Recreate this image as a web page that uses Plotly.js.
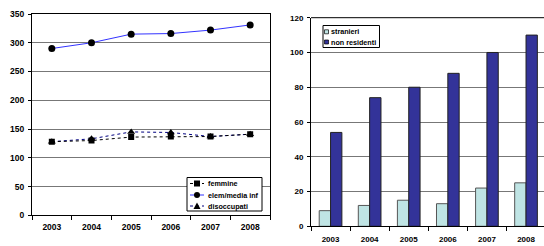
<!DOCTYPE html>
<html><head><meta charset="utf-8">
<script src="https://cdn.plot.ly/plotly-3.0.1.min.js"></script>
<style>html,body{margin:0;padding:0;background:#fff}#chart{width:544px;height:246px}</style>
</head><body><div id="chart"></div>
<script>
var years = ['2003','2004','2005','2006','2007','2008'];
var femmine = [128, 130, 136, 137, 137, 141];
var elemMedia = [290, 300, 315, 316, 322, 331];
var disoccupati = [128, 133, 145, 144, 137, 141];
var stranieri = [9, 12, 15, 13, 22, 25];
var nonResidenti = [54, 74, 80, 88, 100, 110];
var leftNames = ['femmine', 'elem/media inf', 'disoccupati'];
var rightNames = ['stranieri', 'non residenti'];

var W = 544, H = 246;
function px(x){return x / W;}
function py(y){return 1 - y / H;}
var FONT = 'Liberation Sans, Arial, sans-serif';

var traces = [
  {x: years, y: disoccupati, name: leftNames[2], type: 'scatter', mode: 'lines+markers',
   line: {color: '#000080', width: 1, dash: 'dot'}, marker: {symbol: 'triangle-up', size: 7, color: '#000'},
   xaxis: 'x', yaxis: 'y', showlegend: false},
  {x: years, y: femmine, name: leftNames[0], type: 'scatter', mode: 'lines+markers',
   line: {color: '#000', width: 1, dash: 'dot'}, marker: {symbol: 'square', size: 6, color: '#000'},
   xaxis: 'x', yaxis: 'y', showlegend: false},
  {x: years, y: elemMedia, name: leftNames[1], type: 'scatter', mode: 'lines+markers',
   line: {color: '#3333ff', width: 1}, marker: {symbol: 'circle', size: 7, color: '#000'},
   xaxis: 'x', yaxis: 'y', showlegend: false},
  {x: years, y: stranieri, name: rightNames[0], type: 'bar',
   marker: {color: '#bfe4e4', line: {color: '#555', width: 1}}, xaxis: 'x2', yaxis: 'y2', showlegend: false},
  {x: years, y: nonResidenti, name: rightNames[1], type: 'bar',
   marker: {color: '#333399', line: {color: '#222', width: 1}}, xaxis: 'x2', yaxis: 'y2', showlegend: false}
];

var shapes = [];
var annotations = [];

// Legend 1 (left chart)
shapes.push({type: 'rect', xref: 'paper', yref: 'paper', x0: px(187), x1: px(262), y0: py(177.5), y1: py(211),
  line: {color: '#000', width: 1}, fillcolor: '#fff', layer: 'above'});
var leg1 = [
  {name: leftNames[0], color: '#000', dash: 'dot', sym: 'square'},
  {name: leftNames[1], color: '#3333ff', dash: 'solid', sym: 'circle'},
  {name: leftNames[2], color: '#000080', dash: 'dot', sym: 'triangle'}
];
var rows1 = [183.5, 195, 206];
leg1.forEach(function(e, i){
  var yy = rows1[i];
  shapes.push({type: 'line', xref: 'paper', yref: 'paper', x0: px(190), x1: px(204), y0: py(yy), y1: py(yy),
    line: {color: e.color, width: 1, dash: e.dash}, layer: 'above'});
  var cx = 197, r = 3;
  if (e.sym === 'square') {
    shapes.push({type: 'rect', xref: 'paper', yref: 'paper', x0: px(cx - r), x1: px(cx + r), y0: py(yy + r), y1: py(yy - r),
      line: {width: 0}, fillcolor: '#000', layer: 'above'});
  } else if (e.sym === 'circle') {
    shapes.push({type: 'circle', xref: 'paper', yref: 'paper', x0: px(cx - r), x1: px(cx + r), y0: py(yy + r), y1: py(yy - r),
      line: {width: 0}, fillcolor: '#000', layer: 'above'});
  } else {
    var path = 'M' + px(cx - 3.5) + ',' + py(yy + 3) + ' L' + px(cx + 3.5) + ',' + py(yy + 3) + ' L' + px(cx) + ',' + py(yy - 3.5) + ' Z';
    shapes.push({type: 'path', xref: 'paper', yref: 'paper', path: path, line: {width: 0}, fillcolor: '#000', layer: 'above'});
  }
  annotations.push({xref: 'paper', yref: 'paper', x: px(206), y: py(yy), xanchor: 'left', yanchor: 'middle',
    text: e.name, showarrow: false, font: {family: FONT, size: 7.2, color: '#000', weight: 'bold'}});
});

// Legend 2 (right chart)
shapes.push({type: 'rect', xref: 'paper', yref: 'paper', x0: px(323), x1: px(379.5), y0: py(25.5), y1: py(47.5),
  line: {color: '#000', width: 1}, fillcolor: '#fff', layer: 'above'});
var leg2 = [{name: rightNames[0], color: '#bfe4e4'}, {name: rightNames[1], color: '#333399'}];
var rows2 = [31.8, 42];
leg2.forEach(function(e, i){
  var yy = rows2[i];
  shapes.push({type: 'rect', xref: 'paper', yref: 'paper', x0: px(324.5), x1: px(328.5), y0: py(yy + 2), y1: py(yy - 2),
    line: {color: '#000', width: 0.7}, fillcolor: e.color, layer: 'above'});
  annotations.push({xref: 'paper', yref: 'paper', x: px(328.5), y: py(yy), xanchor: 'left', yanchor: 'middle',
    text: e.name, showarrow: false, font: {family: FONT, size: 7.2, color: '#000', weight: 'bold'}});
});

var tickFontL = {family: FONT, size: 8.5, color: '#000', weight: 'bold'};
var tickFontR = {family: FONT, size: 8, color: '#000', weight: 'bold'};

var layout = {
  width: W, height: H,
  margin: {l: 0, r: 0, t: 0, b: 0},
  paper_bgcolor: '#fff', plot_bgcolor: '#fff',
  showlegend: false,
  barmode: 'group', bargap: 0.42, bargroupgap: 0,
  xaxis: {domain: [px(32), px(270)], anchor: 'y', type: 'category', range: [-0.5, 5.5],
    showline: true, linecolor: '#000', linewidth: 1, mirror: true, showgrid: false,
    ticks: 'outside', tickson: 'boundaries', ticklen: 4, tickcolor: '#000',
    tickfont: tickFontL, ticklabelstandoff: 3, zeroline: false},
  yaxis: {domain: [py(215.3), py(14)], anchor: 'x', range: [0, 350], dtick: 50,
    showline: true, linecolor: '#000', linewidth: 1, mirror: true,
    showgrid: true, gridcolor: '#777', gridwidth: 1, zeroline: false,
    ticks: 'outside', ticklen: 3, tickcolor: '#000', tickfont: tickFontL, ticklabelstandoff: 2},
  xaxis2: {domain: [px(311), 1], anchor: 'y2', type: 'category', range: [-0.5, 5.46],
    showline: true, linecolor: '#000', linewidth: 1, showgrid: false,
    ticks: 'outside', tickson: 'boundaries', ticklen: 4, tickcolor: '#000',
    tickfont: tickFontR, ticklabelstandoff: 5, zeroline: false},
  yaxis2: {domain: [py(226.3), py(17.7)], anchor: 'x2', range: [0, 120], dtick: 20,
    showline: true, linecolor: '#000', linewidth: 1,
    showgrid: true, gridcolor: '#777', gridwidth: 1, zeroline: false,
    ticks: 'outside', ticklen: 3, tickcolor: '#000', tickfont: tickFontR, ticklabelstandoff: 2},
  shapes: shapes.concat([
    {type: 'line', xref: 'paper', yref: 'paper', x0: px(311), x1: 1, y0: py(17.7), y1: py(17.7), line: {color: '#000', width: 1}}
  ]),
  annotations: annotations
};

Plotly.newPlot('chart', traces, layout, {displayModeBar: false, staticPlot: true});
</script></body></html>
